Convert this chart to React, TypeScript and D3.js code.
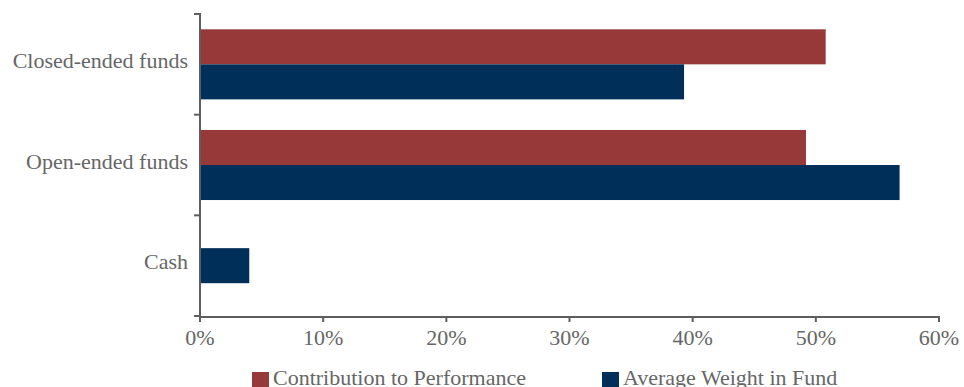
import React, { useEffect } from "react";
import * as d3 from "d3";

// Categories and series values (fractions)
const categories: string[] = ["Closed-ended funds", "Open-ended funds", "Cash"];
const contribution: (number | null)[] = [0.508, 0.492, null];
const avgWeight: (number | null)[] = [0.393, 0.568, 0.04];
const seriesNames: string[] = ["Contribution to Performance", "Average Weight in Fund"];
const seriesColors: string[] = ["#963938", "#003059"];
const xTicks: number[] = [0, 0.1, 0.2, 0.3, 0.4, 0.5, 0.6];

const W = 964;
const H = 387;
const FONT = "Liberation Serif, DejaVu Serif, serif";
const AXIS = "#5e5e5e";
const TEXT = "#666666";
const FS = 22;

export default function App() {
  useEffect(() => {
    document.body.style.margin = "0";
  }, []);

  const x = d3.scaleLinear().domain([0, 0.6]).range([200, 939]);
  const y = d3.scaleBand<string>().domain(categories).range([14, 316]).paddingInner(0).paddingOuter(0);
  const bw = y.bandwidth();
  const thick = bw * 0.348;
  const fmt = d3.format(".0%");
  const series = [contribution, avgWeight];

  const bars: JSX.Element[] = [];
  categories.forEach((cat, ci) => {
    // only series with a value are drawn; the group is centred in its band
    const present = series
      .map((s, si) => ({ si, v: s[ci] }))
      .filter((d) => d.v !== null && d.v !== undefined);
    const group = present.length * thick;
    const start = (y(cat) ?? 0) + (bw - group) / 2;
    present.forEach((d, k) => {
      bars.push(
        <rect
          key={`${ci}-${d.si}`}
          x={x(0)}
          y={start + k * thick}
          width={x(d.v as number) - x(0)}
          height={thick}
          fill={seriesColors[d.si]}
        />
      );
    });
  });

  const yTickPos = [...categories.map((c) => y(c) ?? 0), 316];
  const textStyle = { fontFamily: FONT };

  return (
    <svg width={W} height={H} style={{ display: "block", background: "#fff" }}>
      {bars}
      {/* value axis */}
      <line x1={x(0) - 1} x2={x(0.6) + 1} y1={317} y2={317} stroke={AXIS} strokeWidth={2} />
      {xTicks.map((t) => (
        <g key={t}>
          <line x1={x(t)} x2={x(t)} y1={317} y2={322} stroke={AXIS} strokeWidth={2} />
          <text x={x(t)} y={345} textAnchor="middle" fontSize={FS} fill={TEXT} style={textStyle}>
            {fmt(t)}
          </text>
        </g>
      ))}
      {/* category axis */}
      <line x1={x(0)} x2={x(0)} y1={13} y2={318} stroke={AXIS} strokeWidth={2} />
      {yTickPos.map((p, i) => (
        <line key={i} x1={194} x2={x(0)} y1={p} y2={p} stroke={AXIS} strokeWidth={2} />
      ))}
      {categories.map((c) => (
        <text
          key={c}
          x={188}
          y={(y(c) ?? 0) + bw / 2 + 3.5}
          textAnchor="end"
          fontSize={FS}
          fill={TEXT}
          style={textStyle}
        >
          {c}
        </text>
      ))}
      {/* legend */}
      {seriesNames.map((n, i) => {
        const lx = i === 0 ? 252 : 602;
        return (
          <g key={n}>
            <rect x={lx} y={372} width={17} height={17} fill={seriesColors[i]} />
            <text x={lx + 21} y={385} fontSize={FS} fill={TEXT} style={textStyle}>
              {n}
            </text>
          </g>
        );
      })}
    </svg>
  );
}
